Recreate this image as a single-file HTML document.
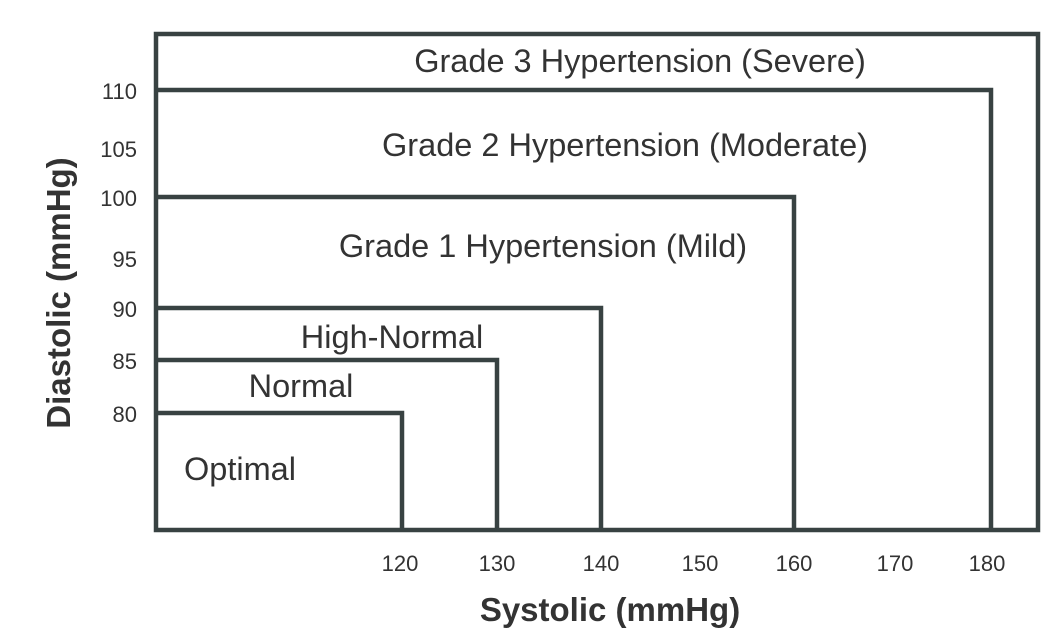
<!DOCTYPE html>
<html><head><style>body{margin:0;background:#fff}</style></head><body>
<svg width="1048" height="633" xmlns="http://www.w3.org/2000/svg" style="display:block">
<g fill="none" stroke="#384242" stroke-width="4.5">
<rect x="156" y="34" width="882" height="496"/>
<polyline points="156,90 991,90 991,530"/>
<polyline points="156,197 794,197 794,530"/>
<polyline points="156,308 601,308 601,530"/>
<polyline points="156,360 497,360 497,530"/>
<polyline points="156,413 402,413 402,530"/>
</g>
<g font-family="Liberation Sans, sans-serif" fill="#333" font-size="22" text-anchor="end">
<text x="137" y="99">110</text>
<text x="137" y="157">105</text>
<text x="137" y="206">100</text>
<text x="137" y="267">95</text>
<text x="137" y="317">90</text>
<text x="137" y="369">85</text>
<text x="137" y="422">80</text>
</g>
<g font-family="Liberation Sans, sans-serif" fill="#333" font-size="22" text-anchor="middle">
<text x="400" y="571">120</text>
<text x="497" y="571">130</text>
<text x="601" y="571">140</text>
<text x="700" y="571">150</text>
<text x="794" y="571">160</text>
<text x="895" y="571">170</text>
<text x="987" y="571">180</text>
</g>
<g font-family="Liberation Sans, sans-serif" fill="#333" font-size="32.5">
<text x="640" y="72" text-anchor="middle">Grade 3 Hypertension (Severe)</text>
<text x="625" y="156" text-anchor="middle">Grade 2 Hypertension (Moderate)</text>
<text x="543" y="257" text-anchor="middle">Grade 1 Hypertension (Mild)</text>
<text x="392" y="348" text-anchor="middle">High-Normal</text>
<text x="301" y="397" text-anchor="middle">Normal</text>
<text x="240" y="480" text-anchor="middle">Optimal</text>
</g>
<text x="610" y="621" text-anchor="middle" font-family="Liberation Sans, sans-serif" font-weight="bold" font-size="33" fill="#333">Systolic (mmHg)</text>
<text transform="translate(70,293) rotate(-90)" text-anchor="middle" font-family="Liberation Sans, sans-serif" font-weight="bold" font-size="33" fill="#333">Diastolic (mmHg)</text>
</svg>
</body></html>
